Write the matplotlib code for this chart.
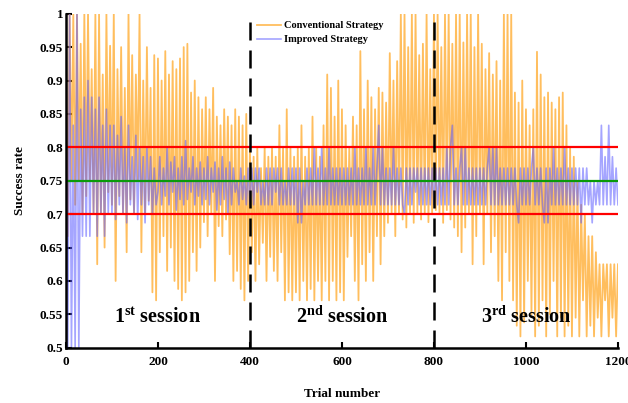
import numpy as np
import matplotlib
matplotlib.use('Agg')
import matplotlib.pyplot as plt

# success rate (x1000), one value every 4 trials from trial 0 to 1200
conventional = [
    1000, 667, 1000, 750, 1000, 714, 1000, 750, 955, 700, 1000, 727, 1000, 750, 917, 700, 1000, 625, 1000, 700, 909, 650, 1000, 733, 952,
    714, 1000, 600, 917, 727, 950, 700, 889, 643, 1000, 722, 938, 700, 909, 750, 1000, 643, 900, 700, 950, 720, 889, 583, 938, 571,
    933, 643, 900, 667, 944, 615, 909, 650, 929, 600, 917, 588, 933, 571, 950, 583, 955, 600, 882, 643, 900, 615, 875, 650, 857,
    688, 875, 667, 857, 700, 889, 600, 846, 682, 833, 667, 857, 692, 846, 640, 833, 600, 857, 615, 846, 588, 833, 571, 850, 600,
    800, 643, 786, 600, 800, 625, 769, 657, 800, 600, 786, 636, 800, 615, 786, 600, 833, 643, 800, 571, 857, 583, 800, 571, 786,
    583, 800, 571, 833, 600, 786, 571, 800, 588, 846, 571, 800, 600, 786, 571, 833, 600, 909, 571, 889, 600, 846, 571, 900, 583,
    857, 571, 833, 636, 800, 667, 846, 600, 833, 571, 944, 625, 857, 600, 900, 643, 875, 600, 857, 667, 889, 625, 882, 667, 867,
    687, 941, 700, 900, 667, 929, 700, 1000, 692, 1000, 680, 950, 700, 1000, 687, 1000, 700, 938, 692, 955, 700, 1000, 688, 917, 700,
    1000, 706, 1000, 700, 950, 687, 1000, 706, 1000, 692, 955, 680, 1000, 667, 1000, 643, 957, 680, 1000, 700, 1000, 625, 950, 667, 1000,
    700, 955, 625, 917, 700, 941, 643, 909, 667, 929, 600, 900, 571, 1000, 643, 1000, 600, 1000, 571, 882, 533, 867, 517, 900, 538,
    857, 600, 833, 550, 857, 517, 943, 533, 909, 571, 875, 517, 882, 550, 867, 600, 857, 517, 875, 545, 882, 517, 833, 533, 800,
    517, 786, 545, 750, 517, 714, 571, 700, 517, 667, 533, 667, 517, 643, 545, 625, 517, 625, 571, 625, 517, 625, 545, 625, 517,
    625,
]
improved = [
    1000, 500, 1000, 500, 833, 500, 1000, 500, 857, 667, 875, 667, 900, 667, 875, 700, 857, 667, 875, 700, 833, 667, 857, 700, 833,
    700, 833, 692, 818, 714, 846, 700, 800, 687, 833, 714, 786, 700, 818, 692, 800, 714, 786, 687, 800, 714, 786, 700, 769, 714,
    733, 786, 714, 769, 727, 800, 714, 778, 733, 786, 706, 769, 722, 786, 714, 810, 722, 769, 733, 786, 714, 769, 727, 778, 714,
    769, 722, 786, 714, 769, 733, 778, 706, 769, 714, 786, 722, 769, 700, 778, 714, 769, 733, 750, 714, 769, 722, 757, 714, 769,
    714, 769, 714, 769, 733, 769, 714, 750, 714, 769, 714, 769, 714, 769, 733, 769, 714, 769, 714, 750, 714, 769, 714, 769, 714,
    769, 687, 769, 687, 750, 714, 769, 714, 769, 714, 800, 714, 769, 714, 800, 714, 769, 714, 800, 714, 769, 714, 769, 714, 769,
    714, 769, 714, 769, 714, 769, 714, 800, 714, 769, 714, 769, 714, 800, 714, 769, 714, 800, 714, 769, 833, 714, 800, 714, 769,
    714, 769, 714, 800, 714, 769, 714, 769, 714, 700, 769, 714, 769, 714, 769, 733, 769, 714, 769, 714, 769, 714, 769, 714, 769,
    714, 769, 714, 769, 714, 769, 714, 800, 714, 800, 833, 714, 769, 714, 769, 800, 714, 800, 714, 769, 714, 769, 714, 769, 714,
    769, 714, 769, 714, 769, 800, 714, 800, 714, 800, 714, 769, 714, 769, 714, 769, 714, 769, 714, 769, 714, 687, 769, 714, 769,
    714, 769, 714, 769, 800, 714, 769, 714, 769, 714, 687, 769, 687, 769, 714, 800, 714, 769, 714, 769, 714, 800, 714, 769, 714,
    769, 714, 769, 714, 769, 687, 769, 714, 769, 714, 750, 687, 750, 714, 750, 714, 833, 714, 786, 714, 833, 714, 786, 714, 769,
    714,
]
trial_step = 4
session_bounds = [400, 800]
session_names = [r'$\mathbf{1^{st}}$ session', r'$\mathbf{2^{nd}}$ session', r'$\mathbf{3^{rd}}$ session']
session_centers = [200, 600, 1000]
limits = [0.7, 0.8]
target = 0.75

plt.rcParams['font.family'] = 'Liberation Serif'
plt.rcParams['font.weight'] = 'bold'
plt.rcParams['mathtext.fontset'] = 'custom'
plt.rcParams['mathtext.rm'] = 'Liberation Serif:bold'
plt.rcParams['mathtext.bf'] = 'Liberation Serif:bold'

conv = np.array(conventional) / 1000.0
imp = np.array(improved) / 1000.0
trials = np.arange(len(conv)) * trial_step

fig = plt.figure(figsize=(6.28, 4.03), dpi=100)
ax = fig.add_subplot(111)
fig.subplots_adjust(left=0.105, right=0.984, top=0.966, bottom=0.137)

ax.plot(trials, conv, color='#ffa31a', alpha=0.7, lw=1.3, label='Conventional Strategy')
ax.plot(trials, imp, color='#5b5bff', alpha=0.55, lw=1.2, label='Improved Strategy')

for y in limits:
    ax.axhline(y, color='#ff0000', lw=1.6)
ax.axhline(target, color='#0a9a0a', lw=1.6)
for b in session_bounds:
    ax.plot([b, b], [0.5, 1.0], color='black', lw=1.8, dashes=(7.2, 4))

for name, c in zip(session_names, session_centers):
    ax.text(c, 0.537, name, ha='center', va='baseline', fontsize=14.5, fontweight='bold')

ax.set_xlim(0, 1200)
ax.set_ylim(0.5, 1.0)
ax.set_xticks(np.arange(0, 1201, 200))
ax.set_yticks(np.arange(0.5, 1.001, 0.05))
ax.set_yticklabels(['0.5', '0.55', '0.6', '0.65', '0.7', '0.75', '0.8', '0.85', '0.9', '0.95', '1'])
ax.tick_params(direction='in', length=4, width=1.5, labelsize=9.5)
ax.tick_params(axis='x', pad=6)
ax.tick_params(axis='y', pad=2)
for s in ['top', 'right']:
    ax.spines[s].set_visible(False)
for s in ['left', 'bottom']:
    ax.spines[s].set_linewidth(1.8)

ax.set_xlabel('Trial number', fontsize=9.5, fontweight='bold', labelpad=14)
ax.set_ylabel('Success rate', fontsize=9.5, fontweight='bold', labelpad=10)

ax.legend(loc='upper left', bbox_to_anchor=(0.346, 0.978), frameon=False, fontsize=7.5,
          borderpad=0, borderaxespad=0, handlelength=2.3, handletextpad=0.3, labelspacing=0.45)

fig.savefig('out.png', dpi=100)
